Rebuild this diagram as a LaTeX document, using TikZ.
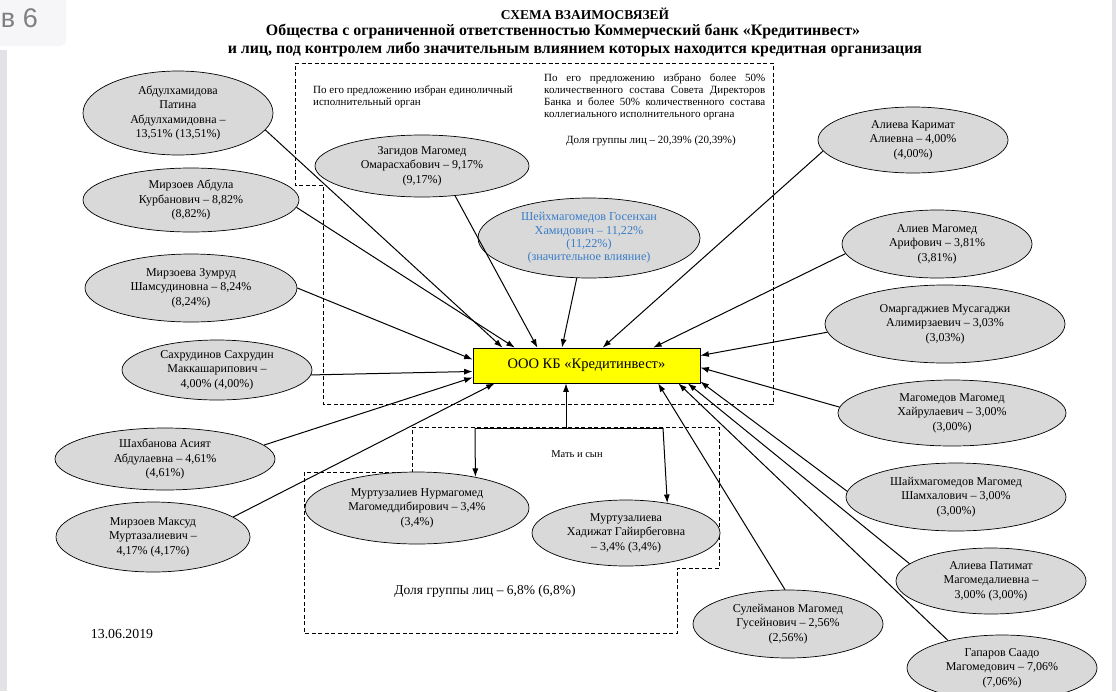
\documentclass[tikz,border=0pt]{standalone}
\usepackage{fontspec}
\setmainfont{Liberation Serif}
\newfontfamily\uisans{Liberation Sans}
\usetikzlibrary{arrows.meta,shapes.geometric}
\definecolor{persgray}{RGB}{217,217,217}
\definecolor{bankyellow}{RGB}{255,255,0}
\definecolor{inflblue}{RGB}{58,125,200}
\definecolor{uigray}{RGB}{226,226,231}
\definecolor{uitab}{RGB}{246,246,248}
\definecolor{uitext}{RGB}{128,128,132}

\begin{document}
\begin{tikzpicture}[x=1pt,y=-1pt,>={Latex[length=8.5pt,width=6pt]},
    every node/.style={align=center},
    person/.style={ellipse,draw,fill=persgray,line width=0.7pt,inner sep=0pt,font=\fontsize{12}{14.5}\selectfont},
    link/.style={->,line width=1pt},
    grpbox/.style={line width=0.7pt,dash pattern=on 4pt off 2.5pt},
    note/.style={inner sep=0pt,font=\fontsize{11}{12.3}\selectfont},
    headline/.style={inner sep=0pt,font=\fontsize{15.9}{17.5}\selectfont\bfseries}]
    \useasboundingbox (0,0) rectangle (1116,691);
    % screen frame
    \fill[uigray] (0,50) rectangle (7,691);
    \fill[uigray] (1112,0) rectangle (1116,691);
    \fill[uitab,rounded corners=6pt] (-12,-12) rectangle (66,46);
    \node[anchor=base east,inner sep=0pt,text=uitext,font=\uisans\fontsize{27}{27}\selectfont] (tab) at (38,27) {в 6};
    % title
    \node[headline,font=\fontsize{13.5}{17.5}\selectfont\bfseries] (title1) at (585,14) {СХЕМА ВЗАИМОСВЯЗЕЙ};
    \node[headline] (title2) at (563,31.5) {Общества с ограниченной ответственностью Коммерческий банк «Кредитинвест»};
    \node[headline] (title3) at (575,49) {и лиц, под контролем либо значительным влиянием которых находится кредитная организация};
    % group boxes
    \draw[grpbox] (295,63) -- (773,63) -- (773,404) -- (323,404) -- (323,185) -- (295,185) -- cycle;
    \draw[grpbox] (412,427) -- (719,427) -- (719,568) -- (677,568) -- (677,633) -- (304,633) -- (304,472) -- (412,472) -- cycle;
    \node[note,anchor=north west,align=left] (noteL) at (313,85) {По его предложению избран единоличный\\исполнительный орган};
    \node[note,anchor=north west,text width=221pt,align=justify] (noteR) at (544,73) {По его предложению избрано более 50\%\linebreak количественного состава Совета Директоров\linebreak Банка и более 50\% количественного состава\linebreak коллегиального исполнительного органа};
    \node[note] (shareA) at (651,141) {Доля группы лиц – 20,39\% (20,39\%)};
    \node[note,font=\fontsize{10.5}{12}\selectfont] (kin) at (577,454) {Мать и сын};
    \node[font=\fontsize{13.5}{15}\selectfont] (shareB) at (485,591) {Доля группы лиц – 6,8\% (6,8\%)};
    \node[font=\fontsize{13.8}{15}\selectfont] (date) at (122,634) {13.06.2019};
    % bank
    \node[draw,fill=bankyellow,line width=0.7pt,minimum width=227,minimum height=35,font=\fontsize{14.5}{16}\selectfont] (bank) at (586.5,365.5) {ООО КБ «Кредитинвест»};
    % left side
    \node[person,minimum width=190,minimum height=84] (abdul) at (178,113) {Абдулхамидова\\Патина\\Абдулхамидовна –\\13,51\% (13,51\%)};
    \node[person,minimum width=216,minimum height=64] (mirzab) at (191,200) {Мирзоев Абдула\\Курбанович – 8,82\%\\(8,82\%)};
    \node[person,minimum width=212,minimum height=68] (mirzz) at (191,288) {Мирзоева Зумруд\\Шамсудиновна – 8,24\%\\(8,24\%)};
    \node[person,minimum width=190,minimum height=60] (sahr) at (217,370) {Сахрудинов Сахрудин\\Маккашарипович –\\4,00\% (4,00\%)};
    \node[person,minimum width=220,minimum height=62] (shahb) at (165,459) {Шахбанова Асият\\Абдулаевна – 4,61\%\\(4,61\%)};
    \node[person,minimum width=194,minimum height=70] (mirzm) at (153,537) {Мирзоев Максуд\\Муртазалиевич –\\4,17\% (4,17\%)};
    % top
    \node[person,minimum width=214,minimum height=62] (zagid) at (422,166) {Загидов Магомед\\Омарасхабович – 9,17\%\\(9,17\%)};
    \node[person,text=inflblue,minimum width=222,minimum height=80,font=\fontsize{12.2}{13.4}\selectfont] (sheikh) at (589,238) {Шейхмагомедов Госенхан\\Хамидович – 11,22\%\\(11,22\%)\\(значительное влияние)};
    % right side
    \node[person,minimum width=190,minimum height=66] (alievak) at (913,140) {Алиева Каримат\\Алиевна – 4,00\%\\(4,00\%)};
    \node[person,minimum width=190,minimum height=68] (alievm) at (937,244) {Алиев Магомед\\Арифович – 3,81\%\\(3,81\%)};
    \node[person,minimum width=240,minimum height=78] (omarg) at (945,324) {Омаргаджиев Мусагаджи\\Алимирзаевич – 3,03\%\\(3,03\%)};
    \node[person,minimum width=228,minimum height=66] (magom) at (952,413) {Магомедов Магомед\\Хайрулаевич – 3,00\%\\(3,00\%)};
    \node[person,minimum width=220,minimum height=68] (shaikh) at (956,497) {Шайхмагомедов Магомед\\Шамхалович – 3,00\%\\(3,00\%)};
    \node[person,minimum width=190,minimum height=66] (alievap) at (991,581) {Алиева Патимат\\Магомедалиевна –\\3,00\% (3,00\%)};
    \node[person,minimum width=190,minimum height=66] (gapar) at (1002,668) {Гапаров Саадо\\Магомедович – 7,06\%\\(7,06\%)};
    \node[person,minimum width=190,minimum height=68] (suleim) at (788,624) {Сулейманов Магомед\\Гусейнович – 2,56\%\\(2,56\%)};
    % family
    \node[person,minimum width=224,minimum height=72] (murtn) at (417,508) {Муртузалиев Нурмагомед\\Магомеддибирович – 3,4\%\\(3,4\%)};
    \node[person,minimum width=188,minimum height=66] (murth) at (626,533) {Муртузалиева\\Хадижат Гайирбеговна\\– 3,4\% (3,4\%)};
    % links to the bank
    \draw[link] (abdul.349) -- (bank.168);
    \draw[link] (mirzab.356) -- (bank.166);
    \draw[link] (mirzz.east) -- (bank.177);
    \draw[link] (sahr.357) -- (bank.183);
    \draw[link] (shahb.8) -- (bank.186);
    \draw[link] (mirzm.14) -- (bank.191);
    \draw[link] (zagid.318) -- (bank.160);
    \draw[link] (sheikh.253) -- (bank.144.5);
    \draw[link] (alievak.187.6) -- (bank.48.5);
    \draw[link] (alievm.186.7) -- (bank.15);
    \draw[link] (omarg.184) -- (bank.5.3);
    \draw[link] (magom.177) -- (bank.359.7);
    \draw[link] (shaikh.177) -- (bank.352);
    \draw[link] (alievap.168) -- (bank.350.5);
    \draw[link] (gapar.153) -- (bank.349.2);
    \draw[link] (suleim.95) -- (bank.346.6);
    % mother and son
    \coordinate (fam) at (566,428);
    \coordinate (famL) at (475,428);
    \coordinate (famR) at (663,428);
    \draw[link] (fam) -- (fam |- bank.south);
    \draw[line width=1pt] (famL) -- (famR);
    \draw[link] (famL) -- (murtn.28);
    \draw[link] (famR) -- (murth.36);
\end{tikzpicture}
\end{document}
